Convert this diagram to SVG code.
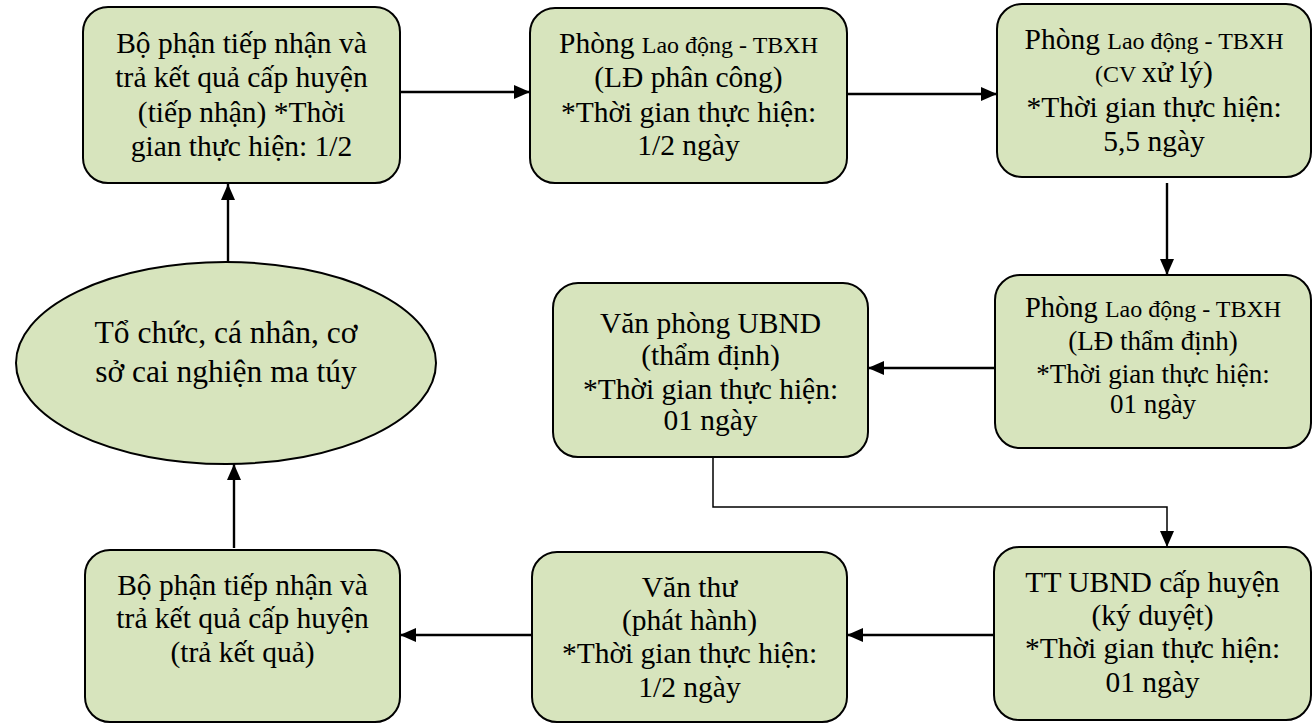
<svg xmlns="http://www.w3.org/2000/svg" width="1313" height="724" viewBox="0 0 1313 724">
<style>
.box{fill:#d7e4bd;stroke:#000;stroke-width:2}
.t{font-family:"Liberation Serif","Times New Roman",serif;font-size:29.5px;fill:#000;text-anchor:middle}
.s{font-size:24px}
.c{fill:none;stroke:#000;stroke-width:2.4}
.thin{stroke-width:1.5}
</style>
<defs>
<marker id="ah" markerUnits="userSpaceOnUse" markerWidth="18" markerHeight="16" refX="16" refY="8" orient="auto">
<path d="M0,1 L16,8 L0,15 z" fill="#000"/>
</marker>
</defs>
<g id="connectors">
<line class="c" x1="228" y1="262" x2="228" y2="184" marker-end="url(#ah)"/>
<line class="c" x1="400" y1="92" x2="530" y2="92" marker-end="url(#ah)"/>
<line class="c" x1="847" y1="94" x2="997" y2="94" marker-end="url(#ah)"/>
<line class="c" x1="1167" y1="183" x2="1167" y2="275" marker-end="url(#ah)"/>
<line class="c" x1="995" y1="368" x2="868" y2="368" marker-end="url(#ah)"/>
<polyline class="c thin" points="713,457 713,507 1167,507 1167,547" marker-end="url(#ah)"/>
<line class="c" x1="994" y1="635" x2="847" y2="635" marker-end="url(#ah)"/>
<line class="c" x1="532" y1="635" x2="400" y2="635" marker-end="url(#ah)"/>
<line class="c" x1="234" y1="548" x2="234" y2="464" marker-end="url(#ah)"/>
</g>
<g id="n1">
<rect class="box" x="83" y="7" width="317" height="176" rx="25"/>
<text class="t" x="241.5" y="53">Bộ phận tiếp nhận và</text>
<text class="t" x="241.5" y="87">trả kết quả cấp huyện</text>
<text class="t" x="241.5" y="122">(tiếp nhận) *Thời</text>
<text class="t" x="241.5" y="156">gian thực hiện: 1/2</text>
</g>
<g id="n2">
<rect class="box" x="530" y="8" width="317" height="175" rx="25"/>
<text class="t" x="688.5" y="53">Phòng <tspan class="s">Lao động - TBXH</tspan></text>
<text class="t" x="688.5" y="87">(LĐ phân công)</text>
<text class="t" x="688.5" y="122">*Thời gian thực hiện:</text>
<text class="t" x="688.5" y="155">1/2 ngày</text>
</g>
<g id="n3">
<rect class="box" x="997" y="4" width="314" height="173" rx="25"/>
<text class="t" x="1154" y="49">Phòng <tspan class="s">Lao động - TBXH</tspan></text>
<text class="t" x="1154" y="82"><tspan class="s">(CV </tspan>xử lý)</text>
<text class="t" x="1154" y="117">*Thời gian thực hiện:</text>
<text class="t" x="1154" y="151">5,5 ngày</text>
</g>
<g id="n4">
<rect class="box" x="995" y="275" width="316" height="173" rx="25"/>
<text class="t" x="1153" y="317" style="font-size:28.5px">Phòng <tspan class="s">Lao động - TBXH</tspan></text>
<text class="t" x="1153" y="350" style="font-size:27px">(LĐ thẩm định)</text>
<text class="t" x="1153" y="383" style="font-size:27px">*Thời gian thực hiện:</text>
<text class="t" x="1153" y="413" style="font-size:27px">01 ngày</text>
</g>
<g id="n5">
<rect class="box" x="553" y="283" width="315" height="174" rx="25"/>
<text class="t" x="710.5" y="333">Văn phòng UBND</text>
<text class="t" x="710.5" y="365">(thẩm định)</text>
<text class="t" x="710.5" y="399">*Thời gian thực hiện:</text>
<text class="t" x="710.5" y="430">01 ngày</text>
</g>
<g id="n6">
<ellipse class="box" cx="226" cy="363" rx="210" ry="101"/>
<text class="t" x="226" y="343" style="font-size:31.5px">Tổ chức, cá nhân, cơ</text>
<text class="t" x="226" y="382" style="font-size:31.5px">sở cai nghiện ma túy</text>
</g>
<g id="n7">
<rect class="box" x="85" y="550" width="315" height="172" rx="25"/>
<text class="t" x="242.5" y="595">Bộ phận tiếp nhận và</text>
<text class="t" x="242.5" y="628">trả kết quả cấp huyện</text>
<text class="t" x="242.5" y="662">(trả kết quả)</text>
</g>
<g id="n8">
<rect class="box" x="532" y="552" width="315" height="170" rx="25"/>
<text class="t" x="689.5" y="597">Văn thư</text>
<text class="t" x="689.5" y="630">(phát hành)</text>
<text class="t" x="689.5" y="663">*Thời gian thực hiện:</text>
<text class="t" x="689.5" y="697">1/2 ngày</text>
</g>
<g id="n9">
<rect class="box" x="994" y="547" width="317" height="173" rx="25"/>
<text class="t" x="1152.5" y="592">TT UBND cấp huyện</text>
<text class="t" x="1152.5" y="625">(ký duyệt)</text>
<text class="t" x="1152.5" y="658">*Thời gian thực hiện:</text>
<text class="t" x="1152.5" y="692">01 ngày</text>
</g>
</svg>
